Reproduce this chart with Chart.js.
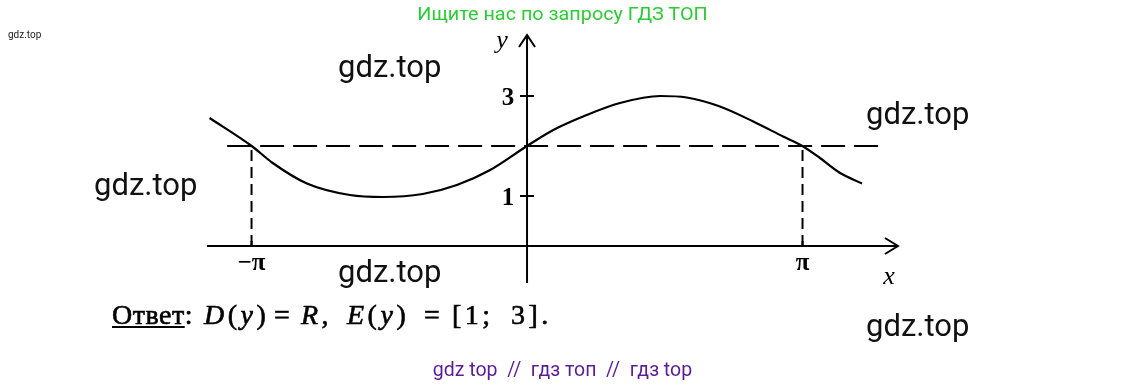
<!DOCTYPE html>
<html>
<head>
<meta charset="utf-8">
<script src="https://cdn.jsdelivr.net/npm/chart.js"></script>
<style>
  html, body { margin: 0; padding: 0; background: #fff; }
  #wrap { position: relative; width: 1125px; height: 387px; overflow: hidden; }
  #plot { position: absolute; left: 0; top: 0; }
  .t { position: absolute; white-space: pre; line-height: 1; }
  .wm { font-family: Roboto, sans-serif; font-size: 31px; color: #111; }
  .lbl { font-family: "Liberation Serif", serif; font-size: 26px; color: #000; transform: translate(-50%, -50%); }
  .num { font-weight: bold; font-size: 25px; }
  .ans { top: 301px; font-family: "Liberation Serif", serif; font-size: 28px; color: #000; -webkit-text-stroke: 0.6px #000; letter-spacing: 3.5px; }
</style>
</head>
<body>
<div id="wrap">
  <canvas id="plot" width="1125" height="387"></canvas>

  <div class="t" style="left:0;top:5px;width:1125px;text-align:center;font-family:Roboto,sans-serif;font-size:18px;color:#2dcb36;transform:scaleX(1.1);">Ищите нас по запросу ГДЗ ТОП</div>
  <div class="t" style="left:8px;top:30px;font-family:Roboto,sans-serif;font-size:10px;color:#222;">gdz.top</div>

  <div class="t wm" style="left:338px;top:51px;">gdz.top</div>
  <div class="t wm" style="left:866px;top:98px;">gdz.top</div>
  <div class="t wm" style="left:94px;top:169px;">gdz.top</div>
  <div class="t wm" style="left:338px;top:256px;">gdz.top</div>
  <div class="t wm" style="left:866px;top:310px;">gdz.top</div>

  <div class="t ans" style="left:112px;letter-spacing:0.5px;"><u>Ответ</u>:</div>
  <div class="t ans" style="left:204px;"><i>D</i>(<i>y</i>)</div>
  <div class="t ans" style="left:274px;">=</div>
  <div class="t ans" style="left:301px;"><i>R</i>,</div>
  <div class="t ans" style="left:347px;"><i>E</i>(<i>y</i>)</div>
  <div class="t ans" style="left:424px;">=</div>
  <div class="t ans" style="left:452px;">[1;</div>
  <div class="t ans" style="left:511px;">3].</div>

  <div class="t" style="left:0;top:360px;width:1125px;text-align:center;font-family:Roboto,sans-serif;font-size:19.5px;color:#5b1d96;">gdz top  //  гдз топ  //  гдз top</div>

  <div id="labels"></div>
</div>

<script>
// curve y = f(x) (x in radians)
const curveX = [-3.62, -3.14, -2.90, -2.51, -2.02, -1.64, -1.19, -0.80, -0.42, 0, 0.30, 0.68, 1.06, 1.52, 1.82, 2.20, 2.58, 2.92, 3.14, 3.34, 3.57, 3.82];
const curveY = [2.56, 2.00, 1.66, 1.25, 1.02, 0.98, 1.04, 1.22, 1.52, 2.00, 2.32, 2.62, 2.86, 3.00, 2.97, 2.79, 2.49, 2.19, 2.00, 1.76, 1.46, 1.25];

// dashed guide y = 2 and the drops at -pi, pi
const levelY = 2;
const levelFrom = -3.42;
const levelTo = 4.02;
const dropX = [-Math.PI, Math.PI];

// axis extents
const xAxisRange = [-3.65, 4.23];
const yAxisRange = [-0.74, 4.22];

// tick labels
const xTicks = [-Math.PI, Math.PI];
const xTickLabels = ['−π', 'π'];
const yTicks = [1, 3];
const yTickLabels = ['1', '3'];

const pts = curveX.map((x, i) => ({ x: x, y: curveY[i] }));

const datasets = [
  {
    data: pts,
    showLine: true,
    borderColor: '#000',
    borderWidth: 2.2,
    pointRadius: 0,
    cubicInterpolationMode: 'monotone'
  },
  {
    data: [{ x: levelFrom, y: levelY }, { x: levelTo, y: levelY }],
    showLine: true,
    borderColor: '#000',
    borderWidth: 2,
    borderDash: [24, 9],
    pointRadius: 0
  }
];
dropX.forEach(x => {
  datasets.push({
    data: [{ x: x, y: 0 }, { x: x, y: levelY }],
    showLine: true,
    borderColor: '#000',
    borderWidth: 2,
    borderDash: [11, 6],
    pointRadius: 0
  });
});

const labelBox = document.getElementById('labels');
function makeLabel(text, cls) {
  const d = document.createElement('div');
  d.className = 't lbl ' + (cls || '');
  d.textContent = text;
  labelBox.appendChild(d);
  return d;
}
const xLbls = xTickLabels.map(t => makeLabel(t, 'num'));
const yLbls = yTickLabels.map(t => makeLabel(t, 'num'));
const xName = makeLabel('x');
xName.style.fontStyle = 'italic';
const yName = makeLabel('y');
yName.style.fontStyle = 'italic';

const axesPlugin = {
  id: 'axes',
  afterDatasetsDraw(chart) {
    const ctx = chart.ctx;
    const xs = chart.scales.x, ys = chart.scales.y;
    const ox = xs.getPixelForValue(0), oy = ys.getPixelForValue(0);
    const x0 = xs.getPixelForValue(xAxisRange[0]), x1 = xs.getPixelForValue(xAxisRange[1]);
    const y0 = ys.getPixelForValue(yAxisRange[0]), y1 = ys.getPixelForValue(yAxisRange[1]);
    ctx.save();
    ctx.strokeStyle = '#000';
    ctx.lineWidth = 2;
    ctx.beginPath();
    ctx.moveTo(x0, oy); ctx.lineTo(x1, oy);
    ctx.moveTo(ox, y0); ctx.lineTo(ox, y1);
    ctx.stroke();
    // arrowheads
    ctx.beginPath();
    ctx.moveTo(x1 - 13, oy - 8); ctx.lineTo(x1, oy); ctx.lineTo(x1 - 13, oy + 8);
    ctx.moveTo(ox - 8, y1 + 12); ctx.lineTo(ox, y1); ctx.lineTo(ox + 8, y1 + 12);
    ctx.stroke();
    // ticks
    ctx.beginPath();
    yTicks.forEach(v => {
      const p = ys.getPixelForValue(v);
      ctx.moveTo(ox - 7, p); ctx.lineTo(ox + 7, p);
    });
    xTicks.forEach(v => {
      const p = xs.getPixelForValue(v);
      ctx.moveTo(p, oy - 5); ctx.lineTo(p, oy);
    });
    ctx.stroke();
    ctx.restore();

    xTicks.forEach((v, i) => {
      xLbls[i].style.left = xs.getPixelForValue(v) + 'px';
      xLbls[i].style.top = (oy + 15) + 'px';
    });
    yTicks.forEach((v, i) => {
      yLbls[i].style.left = (ox - 19) + 'px';
      yLbls[i].style.top = ys.getPixelForValue(v) + 'px';
    });
    xName.style.left = (x1 - 9) + 'px';
    xName.style.top = (oy + 30) + 'px';
    yName.style.left = (ox - 25) + 'px';
    yName.style.top = (y1 + 5) + 'px';
  }
};

new Chart(document.getElementById('plot'), {
  type: 'scatter',
  data: { datasets: datasets },
  options: {
    responsive: false,
    animation: false,
    devicePixelRatio: 1,
    layout: { padding: 0 },
    plugins: { legend: { display: false }, tooltip: { enabled: false } },
    scales: {
      x: { type: 'linear', display: false, min: -6.010, max: 6.819 },
      y: { type: 'linear', display: false, min: -2.82, max: 4.92 }
    }
  },
  plugins: [axesPlugin]
});
</script>
</body>
</html>
